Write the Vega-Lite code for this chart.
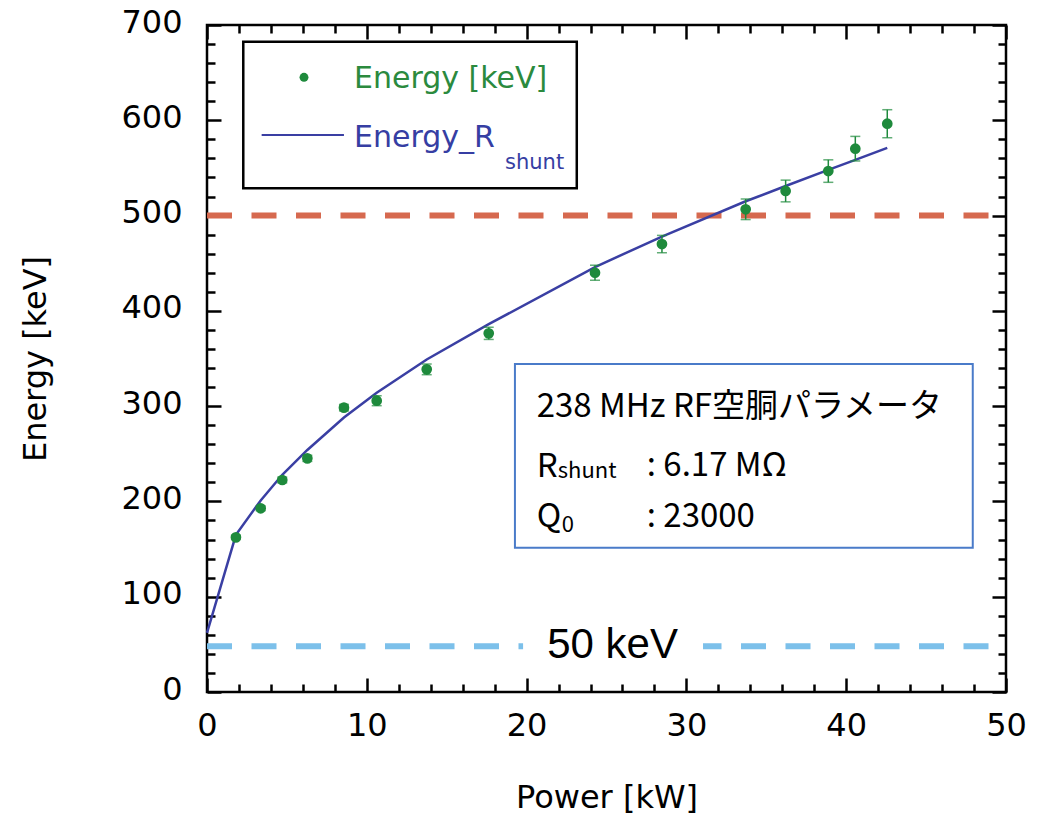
{
  "$schema": "https://vega.github.io/schema/vega-lite/v6.json",
  "width": 799,
  "height": 667,
  "autosize": "none",
  "padding": {"left": 207, "top": 25, "right": 42, "bottom": 123},
  "background": "white",
  "config": {
    "view": {"stroke": "black", "strokeWidth": 2.5},
    "axis": {
      "domain": false, "grid": false, "tickColor": "black", "tickWidth": 2.5, "labelFlush": false,
      "labelFont": "DejaVu Sans", "labelFontSize": 32, "labelColor": "black",
      "titleFont": "DejaVu Sans", "titleFontSize": 32, "titleFontWeight": "normal", "titleColor": "black"
    }
  },
  "datasets": {
    "measured": [
      {"P": 1.81, "E": 162.3, "lo": 160.0, "hi": 164.6},
      {"P": 3.36, "E": 192.8, "lo": 190.3, "hi": 195.3},
      {"P": 4.71, "E": 222.5, "lo": 219.5, "hi": 225.5},
      {"P": 6.28, "E": 245.2, "lo": 242.0, "hi": 248.4},
      {"P": 8.57, "E": 298.4, "lo": 295.0, "hi": 301.8},
      {"P": 10.62, "E": 305.7, "lo": 300.5, "hi": 310.9},
      {"P": 13.75, "E": 338.6, "lo": 333.0, "hi": 344.2},
      {"P": 17.63, "E": 376.4, "lo": 370.0, "hi": 382.8},
      {"P": 24.28, "E": 440.0, "lo": 432.1, "hi": 447.9},
      {"P": 28.47, "E": 470.1, "lo": 461.0, "hi": 479.2},
      {"P": 33.71, "E": 506.6, "lo": 495.8, "hi": 517.4},
      {"P": 36.21, "E": 525.8, "lo": 514.4, "hi": 537.2},
      {"P": 38.88, "E": 546.7, "lo": 534.9, "hi": 558.5},
      {"P": 40.57, "E": 570.2, "lo": 557.3, "hi": 583.1},
      {"P": 42.57, "E": 596.4, "lo": 581.7, "hi": 611.1}
    ],
    "fit": [
      {"P": 0, "E": 62}, {"P": 1.81, "E": 165}, {"P": 3.36, "E": 201}, {"P": 4.71, "E": 228},
      {"P": 6.28, "E": 254}, {"P": 8.57, "E": 288}, {"P": 10.62, "E": 314}, {"P": 13.75, "E": 349},
      {"P": 17.63, "E": 386}, {"P": 24.28, "E": 446}, {"P": 28.47, "E": 478}, {"P": 33.71, "E": 515},
      {"P": 36.21, "E": 531}, {"P": 38.88, "E": 548}, {"P": 40.57, "E": 558.5}, {"P": 42.57, "E": 571}
    ]
  },
  "resolve": {"axis": {"x": "independent", "y": "independent"}},
  "layer": [
    {
      "data": {"values": [{"x": 0, "x2": 50, "y": 500}]},
      "mark": {"type": "rule", "color": "#d6694f", "strokeWidth": 6, "strokeDash": [25, 19.5]},
      "encoding": {
        "x": {"field": "x", "type": "quantitative", "scale": {"domain": [0, 50], "nice": false},
          "axis": {"orient": "bottom", "values": [0, 10, 20, 30, 40, 50], "tickSize": -14, "labelPadding": 32,
            "title": "Power [kW]", "titleY": 115, "titleBaseline": "alphabetic"}},
        "x2": {"field": "x2"},
        "y": {"field": "y", "type": "quantitative", "scale": {"domain": [0, 700], "nice": false},
          "axis": {"orient": "left", "values": [0, 100, 200, 300, 400, 500, 600, 700], "tickSize": -14, "labelPadding": 39, "labelOffset": -3,
            "title": "Energy [keV]", "titleX": -162, "titleBaseline": "alphabetic"}}
      }
    },
    {
      "data": {"values": [{"x": 0, "x2": 50, "y": 48}]},
      "mark": {"type": "rule", "color": "#7cc0ea", "strokeWidth": 6, "strokeDash": [25, 19.5]},
      "encoding": {
        "x": {"field": "x", "type": "quantitative", "scale": {"domain": [0, 50], "nice": false},
          "axis": {"orient": "bottom", "values": [2,4,6,8,12,14,16,18,22,24,26,28,32,34,36,38,42,44,46,48], "tickSize": -8, "labels": false, "title": null}},
        "x2": {"field": "x2"},
        "y": {"field": "y", "type": "quantitative", "scale": {"domain": [0, 700], "nice": false},
          "axis": {"orient": "left", "values": [20,40,60,80,120,140,160,180,220,240,260,280,320,340,360,380,420,440,460,480,520,540,560,580,620,640,660,680], "tickSize": -8, "labels": false, "title": null}}
      }
    },
    {
      "data": {"values": [{"x": 19.78, "x2": 31.04, "y": 42, "y2": 55}]},
      "mark": {"type": "rect", "fill": "white"},
      "encoding": {
        "x": {"field": "x", "type": "quantitative", "scale": {"domain": [0, 50], "nice": false},
          "axis": {"orient": "top", "values": [0, 10, 20, 30, 40, 50], "tickSize": -14, "labels": false, "title": null}},
        "x2": {"field": "x2"},
        "y": {"field": "y", "type": "quantitative", "scale": {"domain": [0, 700], "nice": false},
          "axis": {"orient": "right", "values": [0, 100, 200, 300, 400, 500, 600, 700], "tickSize": -14, "labels": false, "title": null}},
        "y2": {"field": "y2"}
      }
    },
    {
      "data": {"values": [{"x": 25.38, "y": 35.7, "t": "50 keV"}]},
      "mark": {"type": "text", "font": "Liberation Sans", "fontSize": 42, "color": "black", "align": "center", "baseline": "alphabetic"},
      "encoding": {
        "x": {"field": "x", "type": "quantitative", "scale": {"domain": [0, 50], "nice": false},
          "axis": {"orient": "top", "values": [2,4,6,8,12,14,16,18,22,24,26,28,32,34,36,38,42,44,46,48], "tickSize": -8, "labels": false, "title": null}},
        "y": {"field": "y", "type": "quantitative", "scale": {"domain": [0, 700], "nice": false},
          "axis": {"orient": "right", "values": [20,40,60,80,120,140,160,180,220,240,260,280,320,340,360,380,420,440,460,480,520,540,560,580,620,640,660,680], "tickSize": -8, "labels": false, "title": null}},
        "text": {"field": "t"}
      }
    },
    {
      "data": {"name": "fit"},
      "mark": {"type": "line", "color": "#3a3fa3", "strokeWidth": 2.5},
      "encoding": {
        "x": {"field": "P", "type": "quantitative", "scale": {"domain": [0, 50], "nice": false}, "axis": null},
        "y": {"field": "E", "type": "quantitative", "scale": {"domain": [0, 700], "nice": false}, "axis": null}
      }
    },
    {
      "data": {"name": "measured"},
      "mark": {"type": "errorbar", "ticks": {"size": 10}, "thickness": 1.5, "color": "#1e8a3c"},
      "encoding": {
        "x": {"field": "P", "type": "quantitative", "scale": {"domain": [0, 50], "nice": false}, "axis": null},
        "y": {"field": "lo", "type": "quantitative", "scale": {"domain": [0, 700], "nice": false}, "axis": null},
        "y2": {"field": "hi"}
      }
    },
    {
      "data": {"name": "measured"},
      "mark": {"type": "circle", "size": 115, "color": "#1e8a3c", "opacity": 1},
      "encoding": {
        "x": {"field": "P", "type": "quantitative", "scale": {"domain": [0, 50], "nice": false}, "axis": null},
        "y": {"field": "E", "type": "quantitative", "scale": {"domain": [0, 700], "nice": false}, "axis": null}
      }
    },
    {
      "data": {"values": [{"x": 2.27, "x2": 23.14, "y": 528.6, "y2": 682.4}]},
      "mark": {"type": "rect", "fill": "white", "stroke": "black", "strokeWidth": 2.5},
      "encoding": {
        "x": {"field": "x", "type": "quantitative", "scale": {"domain": [0, 50], "nice": false}, "axis": null},
        "x2": {"field": "x2"},
        "y": {"field": "y", "type": "quantitative", "scale": {"domain": [0, 700], "nice": false}, "axis": null},
        "y2": {"field": "y2"}
      }
    },
    {
      "data": {"values": [{"x": 6.07, "y": 645.1}]},
      "mark": {"type": "circle", "size": 80, "color": "#1e8a3c", "opacity": 1},
      "encoding": {
        "x": {"field": "x", "type": "quantitative", "scale": {"domain": [0, 50], "nice": false}, "axis": null},
        "y": {"field": "y", "type": "quantitative", "scale": {"domain": [0, 700], "nice": false}, "axis": null}
      }
    },
    {
      "data": {"values": [{"x": 3.42, "x2": 8.57, "y": 584.5}]},
      "mark": {"type": "rule", "color": "#3a3fa3", "strokeWidth": 2},
      "encoding": {
        "x": {"field": "x", "type": "quantitative", "scale": {"domain": [0, 50], "nice": false}, "axis": null},
        "x2": {"field": "x2"},
        "y": {"field": "y", "type": "quantitative", "scale": {"domain": [0, 700], "nice": false}, "axis": null}
      }
    },
    {
      "data": {"values": [{"x": 9.2, "y": 633.9, "t": "Energy [keV]"}]},
      "mark": {"type": "text", "font": "DejaVu Sans", "fontSize": 30, "color": "#2b8a3e", "align": "left", "baseline": "alphabetic"},
      "encoding": {
        "x": {"field": "x", "type": "quantitative", "scale": {"domain": [0, 50], "nice": false}, "axis": null},
        "y": {"field": "y", "type": "quantitative", "scale": {"domain": [0, 700], "nice": false}, "axis": null},
        "text": {"field": "t"}
      }
    },
    {
      "data": {"values": [{"x": 9.2, "y": 572, "t": "Energy_R"}]},
      "mark": {"type": "text", "font": "DejaVu Sans", "fontSize": 30, "color": "#363ea3", "align": "left", "baseline": "alphabetic"},
      "encoding": {
        "x": {"field": "x", "type": "quantitative", "scale": {"domain": [0, 50], "nice": false}, "axis": null},
        "y": {"field": "y", "type": "quantitative", "scale": {"domain": [0, 700], "nice": false}, "axis": null},
        "text": {"field": "t"}
      }
    },
    {
      "data": {"values": [{"x": 18.65, "y": 549.4, "t": "shunt"}]},
      "mark": {"type": "text", "font": "DejaVu Sans", "fontSize": 21, "color": "#363ea3", "align": "left", "baseline": "alphabetic"},
      "encoding": {
        "x": {"field": "x", "type": "quantitative", "scale": {"domain": [0, 50], "nice": false}, "axis": null},
        "y": {"field": "y", "type": "quantitative", "scale": {"domain": [0, 700], "nice": false}, "axis": null},
        "text": {"field": "t"}
      }
    },
    {
      "data": {"values": [{"x": 19.27, "x2": 47.92, "y": 151.4, "y2": 344.2}]},
      "mark": {"type": "rect", "fill": "white", "stroke": "#4a7bc9", "strokeWidth": 2},
      "encoding": {
        "x": {"field": "x", "type": "quantitative", "scale": {"domain": [0, 50], "nice": false}, "axis": null},
        "x2": {"field": "x2"},
        "y": {"field": "y", "type": "quantitative", "scale": {"domain": [0, 700], "nice": false}, "axis": null},
        "y2": {"field": "y2"}
      }
    },
    {
      "data": {"values": [
        {"x": 20.63, "y": 288.9, "t": "238 MHz RF空胴パラメータ"},
        {"x": 20.63, "y": 226.0, "t": "R"},
        {"x": 27.52, "y": 226.5, "t": ": 6.17 MΩ"},
        {"x": 20.63, "y": 173.5, "t": "Q"},
        {"x": 27.52, "y": 173.5, "t": ": 23000"}
      ]},
      "mark": {"type": "text", "font": "Noto Sans CJK JP", "fontSize": 33, "color": "black", "align": "left", "baseline": "alphabetic"},
      "encoding": {
        "x": {"field": "x", "type": "quantitative", "scale": {"domain": [0, 50], "nice": false}, "axis": null},
        "y": {"field": "y", "type": "quantitative", "scale": {"domain": [0, 700], "nice": false}, "axis": null},
        "text": {"field": "t"}
      }
    },
    {
      "data": {"values": [
        {"x": 21.95, "y": 224.6, "t": "shunt"},
        {"x": 22.2, "y": 168.2, "t": "0"}
      ]},
      "mark": {"type": "text", "font": "Noto Sans CJK JP", "fontSize": 22, "color": "black", "align": "left", "baseline": "alphabetic"},
      "encoding": {
        "x": {"field": "x", "type": "quantitative", "scale": {"domain": [0, 50], "nice": false}, "axis": null},
        "y": {"field": "y", "type": "quantitative", "scale": {"domain": [0, 700], "nice": false}, "axis": null},
        "text": {"field": "t"}
      }
    }
  ]
}
